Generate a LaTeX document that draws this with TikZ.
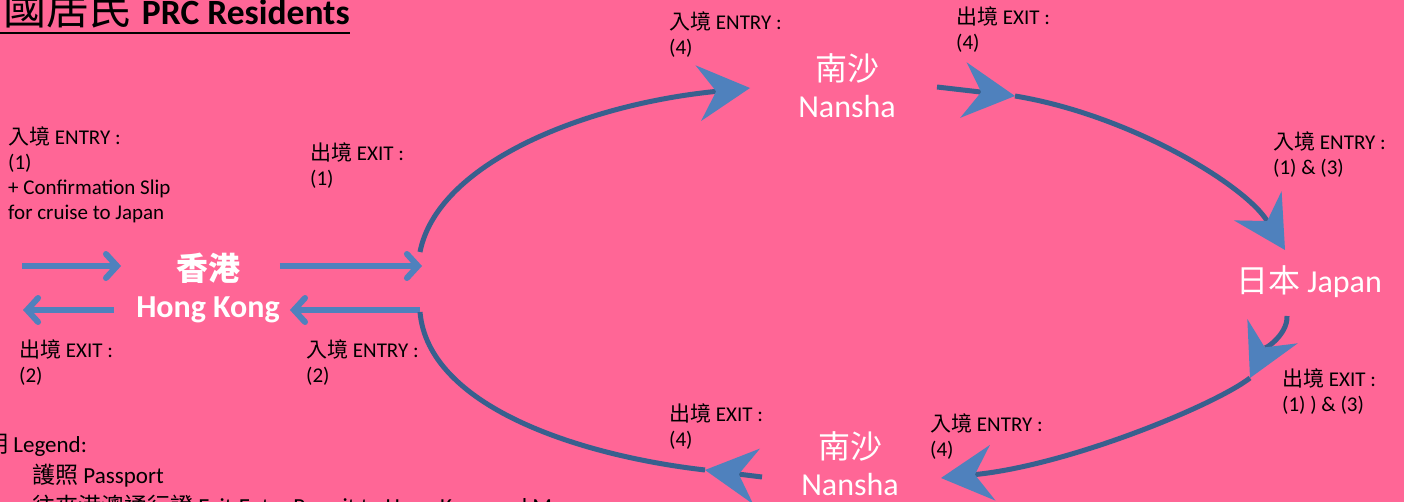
\documentclass[tikz,border=0pt]{standalone}
\usepackage{fontspec}
\setmainfont{Carlito}
\newfontfamily\cjk{Noto Sans CJK TC}
\usetikzlibrary{arrows.meta,positioning}

\definecolor{pagepink}{RGB}{255,102,150}
\definecolor{routeblue}{RGB}{56,96,142}
\definecolor{tipblue}{RGB}{79,129,189}
\newcommand{\zh}[1]{{\cjk #1}}

\tikzset{
	place/.style={text=white, align=center, inner sep=0pt, font=\fontsize{32}{37}\selectfont},
	note/.style={align=left, anchor=north west, inner sep=0pt, font=\fontsize{21}{25}\selectfont},
	route/.style={draw=routeblue, line width=5pt},
	bigtip/.style={-{Stealth[length=52pt, width=56pt, inset=18pt, color=tipblue, line width=0pt]}},
	hkarrow/.style={draw=tipblue, line width=6pt, -{Straight Barb[length=11pt, width=24pt, line cap=round]}},
}

\begin{document}
\begin{tikzpicture}[x=1pt, y=-1pt]
	\useasboundingbox (0,0) rectangle (1404,502);
	\fill[pagepink] (0,0) rectangle (1404,502);

	% title and legend
	\node[anchor=base west, inner sep=0pt] (title) at (-40,25)
		{\fontsize{43}{48}\selectfont\zh{中國居民} \fontsize{35.5}{40}\selectfont\bfseries PRC Residents};
	\draw[line width=2pt] ([yshift=-8pt]title.base west) -- ([yshift=-8pt]title.base east);
	\node[anchor=base west, inner sep=0pt, font=\fontsize{23}{31}\selectfont] (legend) at (-38,452) {\zh{說明} Legend:};
	\node[anchor=base west, inner sep=0pt, font=\fontsize{23}{31}\selectfont] (pass) at (32,483) {\zh{護照} Passport};
	\node[anchor=base west, inner sep=0pt, font=\fontsize{23}{31}\selectfont] (permit) at (32,514) {\zh{往來港澳通行證} Exit-Entry Permit to Hong Kong and Macao};

	% places
	\node[place, font=\fontsize{32}{37}\selectfont\bfseries] (hk) at (208,288) {\zh{香港}\\Hong Kong};
	\node[place] (nsTop) at (847,86) {\zh{南沙}\\Nansha};
	\node[place] (jp) at (1309,282) {\zh{日本} Japan};
	\node[place] (nsBot) at (850,464) {\zh{南沙}\\Nansha};

	% end points of the loop
	\coordinate (inA) at (22,266);
	\coordinate (exB) at (23,310);
	\coordinate (outB) at (422,266);
	\coordinate (retA) at (420,310);
	\coordinate (loopN) at (420,252);
	\coordinate (loopS) at (420,312);
	\coordinate (nsTopIn) at (750,88);
	\coordinate (nsTopOut) at (937,87);
	\coordinate (midNE) at (1015,96);
	\coordinate (jpIn) at (1285,250);
	\coordinate (jpOut) at (1287,316);
	\coordinate (midSE) at (1250,378);
	\coordinate (nsBotIn) at (941,478);
	\coordinate (nsBotOut) at (762,477);
	\coordinate (midSW) at (705,470);

	% Hong Kong arrows
	\draw[hkarrow] (inA) -- ([xshift=-15pt]hk.west |- inA);
	\draw[hkarrow] (hk.east |- outB) -- (outB);
	\draw[hkarrow] (retA) -- ([xshift=10pt]hk.east |- retA);
	\draw[hkarrow] ([xshift=-22pt]hk.west |- exB) -- (exB);

	% the cruise loop
	\draw[route, bigtip] (loopN) .. controls (437,165) and (580,105) .. (nsTopIn);
	\draw[route, bigtip] (nsTopOut) -- (midNE);
	\draw[route, bigtip] (midNE) .. controls (1130,115) and (1245,185) .. (jpIn);
	\draw[route, bigtip] (jpOut) .. controls (1288,335) and (1263,351) .. (midSE);
	\draw[route, bigtip] (midSE) .. controls (1215,405) and (1070,465) .. (nsBotIn);
	\draw[route, bigtip] (nsBotOut) -- (midSW);
	\draw[route] (midSW) .. controls (575,455) and (428,405) .. (loopS);

	% entry and exit notes
	\node[note] (hkIn) at (8,127) {\zh{入境} ENTRY :\\(1)\\+ Confirmation Slip\\for cruise to Japan};
	\node[note] (hkOut) at (310,143) {\zh{出境} EXIT :\\(1)};
	\node[note] (hkBack) at (19,340) {\zh{出境} EXIT :\\(2)};
	\node[note] (hkRet) at (306,340) {\zh{入境} ENTRY :\\(2)};
	\node[note] (nsTopEntry) at (669,12) {\zh{入境} ENTRY :\\(4)};
	\node[note] (nsTopExit) at (956,7) {\zh{出境} EXIT :\\(4)};
	\node[note] (jpEntry) at (1273,132) {\zh{入境} ENTRY :\\(1) \& (3)};
	\node[note] (jpExit) at (1282,369) {\zh{出境} EXIT :\\(1) ) \& (3)};
	\node[note] (nsBotExit) at (669,404) {\zh{出境} EXIT :\\(4)};
	\node[note] (nsBotEntry) at (930,414) {\zh{入境} ENTRY :\\(4)};
\end{tikzpicture}
\end{document}
